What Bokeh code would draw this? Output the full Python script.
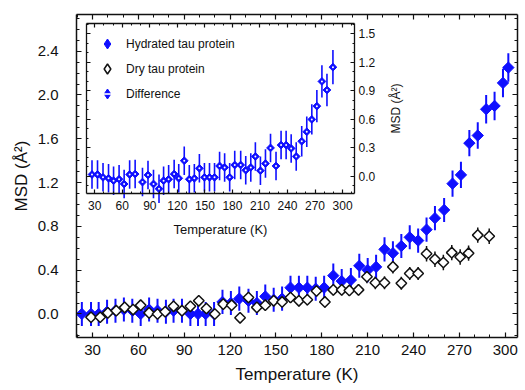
import numpy as np
from bokeh.plotting import figure
from bokeh.models import (Range1d, LinearAxis, SingleIntervalTicker, PrintfTickFormatter,
                          BoxAnnotation, Legend, LegendItem, CustomLabelingPolicy, Label)
from bokeh.embed import file_html
from bokeh.resources import INLINE

# ---------------- data ----------------
T_hyd = [23, 29, 34, 39.5, 45, 50.5, 56, 61.5, 67, 72.5,
         78, 83, 88.5, 94, 99, 104, 109.5, 115, 120.5, 126,
         132, 137.5, 143, 148.5, 154, 159.5, 165, 170.5, 176, 181.5,
         187.5, 193, 199, 204.5, 210, 215.5, 221, 226.5, 232, 237.5,
         243, 248.5, 254, 260, 265.5, 271, 276.5, 282, 287.5, 293,
         298.5, 302]
msd_hyd = [0.00, 0.00, 0.00, 0.02, 0.03, 0.04, 0.03, 0.00, 0.04, 0.03,
           0.02, 0.03, 0.03, 0.00, 0.00, 0.00, 0.00, 0.11, 0.10, 0.14,
           0.12, 0.10, 0.16, 0.13, 0.14, 0.24, 0.24, 0.24, 0.23, 0.24,
           0.35, 0.30, 0.31, 0.44, 0.40, 0.43, 0.59, 0.555, 0.62, 0.70,
           0.67, 0.77, 0.875, 0.95, 1.19, 1.27, 1.56, 1.63, 1.87, 1.90,
           2.11, 2.25]
err_hyd = [0.11, 0.11, 0.11, 0.11, 0.11, 0.11, 0.11, 0.11, 0.11, 0.11,
           0.11, 0.11, 0.11, 0.11, 0.11, 0.11, 0.11, 0.11, 0.11, 0.11,
           0.11, 0.11, 0.11, 0.11, 0.11, 0.11, 0.11, 0.11, 0.11, 0.11,
           0.11, 0.11, 0.11, 0.11, 0.11, 0.11, 0.11, 0.11, 0.11, 0.11,
           0.11, 0.11, 0.11, 0.11, 0.12, 0.12, 0.12, 0.12, 0.13, 0.13,
           0.13, 0.13]

T_dry = [29, 35, 40, 45.5, 51, 56.5, 61.5, 67, 72.5, 77.5,
         83, 88.5, 94, 99.5, 104.5, 110, 115.5, 121, 126.5, 132,
         137.5, 143, 148.5, 154, 159.5, 165, 170.5, 176.5, 182, 187.5,
         193, 198, 204, 209.5, 215, 221, 226.5, 232, 237.5, 243,
         248.5, 254, 259.5, 265, 270.5, 276, 282, 289.5]
msd_dry = [-0.03, -0.03, 0.01, 0.03, 0.06, 0.04, 0.08, 0.01, 0.00, 0.02,
           0.07, 0.03, 0.07, 0.12, 0.05, 0.00, 0.09, 0.08, -0.035, 0.15,
           0.06, 0.08, 0.12, 0.11, 0.15, 0.12, 0.13, 0.21, 0.11, 0.22,
           0.22, 0.215, 0.22, 0.34, 0.285, 0.285, 0.43, 0.28, 0.37, 0.37,
           0.55, 0.50, 0.47, 0.56, 0.52, 0.555, 0.72, 0.71]
err_dry = [0.03, 0.03, 0.03, 0.03, 0.03, 0.03, 0.03, 0.03, 0.03, 0.03,
           0.03, 0.03, 0.03, 0.03, 0.03, 0.03, 0.03, 0.03, 0.03, 0.03,
           0.03, 0.04, 0.04, 0.05, 0.05, 0.05, 0.05, 0.05, 0.05, 0.05,
           0.05, 0.05, 0.05, 0.06, 0.06, 0.06, 0.06, 0.06, 0.06, 0.06,
           0.07, 0.07, 0.07, 0.07, 0.07, 0.07, 0.07, 0.07]

T_diff = [27, 33, 39, 45, 50.5, 56.5, 62, 68, 74, 82,
          88, 94, 100, 105, 110.5, 116.5, 121.5, 127.5, 133, 138.5,
          144, 149.5, 155, 160.5, 166, 171.5, 177, 182.5, 189, 194.5,
          200, 205, 210.5, 216, 221.5, 227.5, 233, 238.5, 244, 249.5,
          255.5, 261, 266.5, 272, 277.5, 283, 289.5]
msd_diff = [0.02, 0.02, -0.01, -0.02, -0.045, -0.03, -0.08, 0.02, 0.025, -0.06,
            0.015, -0.08, -0.13, -0.045, -0.03, 0.025, -0.02, 0.165, -0.03, -0.02,
            0.085, -0.01, -0.01, -0.01, 0.11, 0.095, -0.01, 0.12, 0.12, 0.065,
            0.095, 0.21, 0.06, 0.135, 0.30, 0.11, 0.33, 0.33, 0.295, 0.21,
            0.37, 0.47, 0.60, 0.74, 1.00, 0.91, 1.15]
err_diff = [0.15, 0.15, 0.15, 0.15, 0.15, 0.15, 0.15, 0.15, 0.15, 0.15,
            0.15, 0.15, 0.15, 0.15, 0.15, 0.15, 0.15, 0.15, 0.15, 0.15,
            0.15, 0.15, 0.15, 0.15, 0.15, 0.15, 0.15, 0.15, 0.15, 0.15,
            0.15, 0.15, 0.15, 0.15, 0.15, 0.15, 0.15, 0.15, 0.15, 0.15,
            0.16, 0.16, 0.16, 0.17, 0.17, 0.17, 0.18]

labels = ["Hydrated tau protein", "Dry tau protein", "Difference"]
x_title = "Temperature (K)"
y_title = "MSD (Å²)"

# ---------------- style ----------------
FONT = "Liberation Sans"
BLUE = "#0f0fff"
BLACK = "#111111"

X_MAIN = (19.5, 308.0)
Y_MAIN = (-0.215, 2.735)
IX = (21.0, 313.0)      # inset data ranges
IY = (-0.18, 1.61)
# inset box as fractions of the main frame (left, right, bottom, top)
FX0, FX1 = 10 / 441, 278 / 441
FY0, FY1 = 144 / 323, 314 / 323

sx = (IX[1] - IX[0]) / (FX1 - FX0)
ix0 = IX[0] - FX0 * sx
sy = (IY[1] - IY[0]) / (FY1 - FY0)
iy0 = IY[0] - FY0 * sy

p = figure(width=523, height=390, output_backend="svg", toolbar_location=None,
           x_range=Range1d(*X_MAIN), y_range=Range1d(*Y_MAIN),
           x_axis_type=None, y_axis_type=None,
           min_border_left=76, min_border_right=6, min_border_top=14, min_border_bottom=53)
p.extra_x_ranges = {"ix": Range1d(ix0, ix0 + sx)}
p.extra_y_ranges = {"iy": Range1d(iy0, iy0 + sy)}
p.xgrid.visible = False
p.ygrid.visible = False
p.outline_line_color = None
p.background_fill_color = "white"
p.border_fill_color = "white"

NO_LABELS = CustomLabelingPolicy(code="for (const i of indices) { indices.unset(i) } return indices")


def style(ax, fs, show_labels=True, tin=5, mtin=3, lw=1.5):
    ax.major_tick_in = tin
    ax.major_tick_out = 0
    ax.minor_tick_in = mtin
    ax.minor_tick_out = 0
    ax.axis_line_width = lw
    ax.axis_line_color = BLACK
    ax.major_tick_line_width = 1.2
    ax.minor_tick_line_width = 1
    ax.major_tick_line_color = BLACK
    ax.minor_tick_line_color = BLACK
    ax.major_label_text_font = FONT
    ax.major_label_text_color = BLACK
    ax.major_label_text_font_size = fs
    ax.axis_label_text_font = FONT
    ax.axis_label_text_font_style = "normal"
    ax.axis_label_text_color = BLACK
    if not show_labels:
        ax.major_label_text_font_size = "0px"
        ax.major_label_policy = NO_LABELS
        ax.major_label_standoff = 0


# main axes
xb = LinearAxis(ticker=SingleIntervalTicker(interval=30, num_minor_ticks=3))
style(xb, "15px")
xb.major_label_standoff = 7
xb.axis_label = x_title
xb.axis_label_text_font_size = "17px"
xb.axis_label_standoff = 7
p.add_layout(xb, "below")

xt = LinearAxis(ticker=SingleIntervalTicker(interval=30, num_minor_ticks=3))
style(xt, "15px", show_labels=False)
p.add_layout(xt, "above")

yl = LinearAxis(ticker=SingleIntervalTicker(interval=0.4, num_minor_ticks=4),
                formatter=PrintfTickFormatter(format="%.1f"))
style(yl, "15px")
yl.major_label_standoff = 18
yl.axis_label = y_title
yl.axis_label_text_font_size = "17px"
yl.axis_label_standoff = 4
p.add_layout(yl, "left")

yr = LinearAxis(ticker=SingleIntervalTicker(interval=0.4, num_minor_ticks=4))
style(yr, "15px", show_labels=False)
p.add_layout(yr, "right")

# inset background
box = BoxAnnotation(left=IX[0], right=IX[1], bottom=IY[0], top=IY[1],
                    x_range_name="ix", y_range_name="iy",
                    fill_color="white", fill_alpha=1.0, line_color=None, level="underlay")
p.add_layout(box)


def inset_axis(side, dim):
    if dim == "x":
        ax = LinearAxis(ticker=SingleIntervalTicker(interval=30, num_minor_ticks=3),
                        x_range_name="ix", y_range_name="iy", bounds=IX,
                        fixed_location=IY[0] if side == "below" else IY[1])
    else:
        ax = LinearAxis(ticker=SingleIntervalTicker(interval=0.3, num_minor_ticks=3),
                        formatter=PrintfTickFormatter(format="%.1f"),
                        x_range_name="ix", y_range_name="iy", bounds=IY,
                        fixed_location=IX[1] if side == "right" else IX[0])
    return ax


ib = inset_axis("below", "x")
style(ib, "12px", tin=4, mtin=2, lw=1.3)
ib.major_label_standoff = 7
ib.axis_label = x_title
ib.axis_label_text_font_size = "13px"
ib.axis_label_standoff = 9
p.add_layout(ib, "below")

it = inset_axis("above", "x")
style(it, "12px", show_labels=False, tin=4, mtin=2, lw=1.3)
p.add_layout(it, "above")

il = inset_axis("left", "y")
style(il, "12px", show_labels=False, tin=4, mtin=2, lw=1.3)
p.add_layout(il, "left")

ir = inset_axis("right", "y")
style(ir, "12px", tin=4, mtin=2, lw=1.3)
ir.major_label_standoff = 4
p.add_layout(ir, "right")

# inset y-axis title (right side, reading bottom-to-top)
p.add_layout(Label(x=IX[1], y=(IY[0] + IY[1]) / 2, x_range_name="ix", y_range_name="iy",
                   x_offset=41, angle=np.pi / 2, text=y_title,
                   text_align="center", text_baseline="middle",
                   text_font=FONT, text_font_size="12px", text_color=BLACK))

# ---------------- glyphs ----------------
th, mh, eh = np.array(T_hyd), np.array(msd_hyd), np.array(err_hyd)
td, md, ed = np.array(T_dry), np.array(msd_dry), np.array(err_dry)
tf, mf, ef = np.array(T_diff), np.array(msd_diff), np.array(err_diff)

ANG = np.pi / 4

p.segment(x0=td, y0=md - ed, x1=td, y1=md + ed, line_color=BLACK, line_width=1.5)
p.segment(x0=th, y0=mh - eh, x1=th, y1=mh + eh, line_color=BLUE, line_width=2)
p.scatter(th, mh, marker="square", angle=ANG, size=8, fill_color=BLUE, line_color=BLUE)
p.scatter(td, md, marker="square", angle=ANG, size=7.5,
          fill_color="white", line_color=BLACK, line_width=1.5)

p.segment(x0=tf, y0=mf - ef, x1=tf, y1=mf + ef, line_color=BLUE, line_width=1.6,
          x_range_name="ix", y_range_name="iy")
p.scatter(tf, mf, marker="square", angle=ANG, size=5.5,
          fill_color=BLUE, line_color=BLUE, x_range_name="ix", y_range_name="iy")
p.scatter(tf, mf, marker="circle", size=2, fill_color="white", line_color=None,
          x_range_name="ix", y_range_name="iy")

# legend glyphs (diamond shapes; the legend draws markers un-rotated).
# They reuse the first point of each series and are hidden in the plot itself.
lg_hyd = p.scatter(th[:1], mh[:1], marker="diamond", fill_color=BLUE, line_color=BLUE,
                   visible=False)
lg_dry = p.scatter(td[:1], md[:1], marker="diamond", fill_color="white", line_color=BLACK,
                   line_width=1.5, visible=False)
lg_dif = p.scatter(tf[:1], mf[:1], marker="diamond", fill_color=BLUE, line_color=BLUE,
                   x_range_name="ix", y_range_name="iy", visible=False)
lg_dif2 = p.scatter(tf[:1], mf[:1], marker="dash", line_color="white", line_width=1.6,
                    x_range_name="ix", y_range_name="iy", visible=False)

legend = Legend(items=[LegendItem(label=labels[0], renderers=[lg_hyd]),
                       LegendItem(label=labels[1], renderers=[lg_dry]),
                       LegendItem(label=labels[2], renderers=[lg_dif, lg_dif2])],
                location="top_left", margin=14, padding=3, spacing=0,
                glyph_width=28, glyph_height=25, label_height=25, label_standoff=5,
                label_text_font=FONT, label_text_font_size="12px", label_text_color=BLACK,
                border_line_alpha=0, background_fill_alpha=0)
p.add_layout(legend)

open("out.html", "w").write(file_html(p, INLINE))
